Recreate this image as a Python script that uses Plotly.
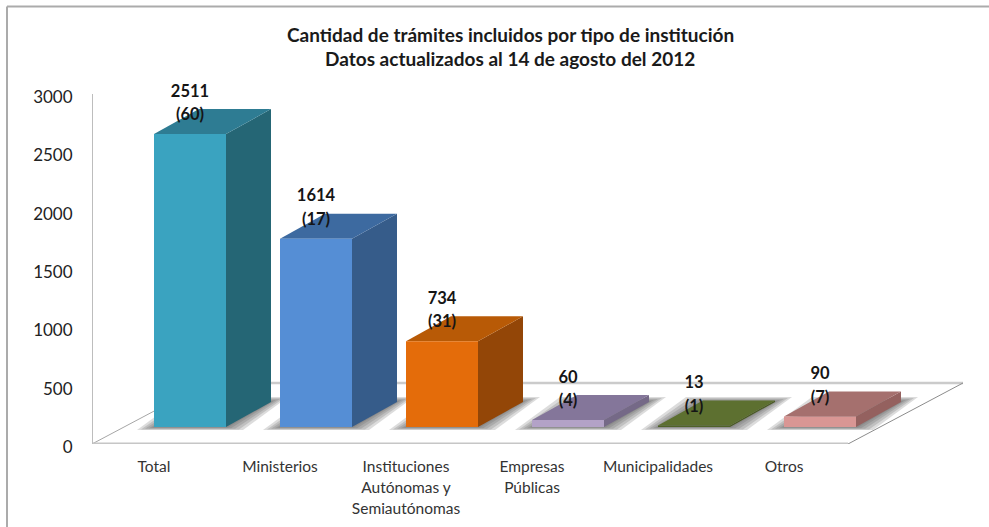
import plotly.graph_objects as go

# ---- data ----
categories = ["Total", "Ministerios", "Instituciones<br>Autónomas y<br>Semiautónomas",
              "Empresas<br>Públicas", "Municipalidades", "Otros"]
tramites = [2511, 1614, 734, 60, 13, 90]
instituciones = [60, 17, 31, 4, 1, 7]
y_ticks = [0, 500, 1000, 1500, 2000, 2500, 3000]
title_lines = ["Cantidad de trámites incluidos por tipo de institución",
               "Datos actualizados al 14 de agosto del 2012"]

# ---- styles ----
front_colors = ["#3AA3C0", "#558ED5", "#E46C0A", "#B3A2C7", "#4F6228", "#D99694"]
top_colors = ["#2E7C93", "#3D6AA0", "#B85A06", "#84769A", "#5D7030", "#A5706E"]
side_colors = ["#256675", "#365C8A", "#934607", "#756987", "#4A5A24", "#94615F"]

W, H = 989, 527
L, R, T, B = 92, 14, 59, 83
Y_MAX = 3300
AXIS_MAX = 3000
PX_X = 126.0                     # pixels per category step
PX_Y = 350 / AXIS_MAX            # pixels per value unit
FIRST_TICK_PX = 154
x0 = (L - FIRST_TICK_PX) / PX_X
x1 = (W - R - FIRST_TICK_PX) / PX_X

px = lambda v: v / PX_X          # pixel length -> x units
py = lambda v: v / PX_Y          # pixel length -> y units

BAR_W = px(72)
BASE = py(17)
BAR_DX, BAR_DY = px(45), py(25)
FLOOR_DX, FLOOR_DY = px(115), py(61)
FLOOR_END = px(848 - 92) + x0

fig = go.Figure()


def poly(xs, ys, color):
    fig.add_trace(go.Scatter(x=xs + xs[:1], y=ys + ys[:1], mode="lines", fill="toself",
                             fillcolor=color, line=dict(width=0), hoverinfo="skip",
                             showlegend=False))


def segment(xs, ys, color, width):
    fig.add_trace(go.Scatter(x=xs, y=ys, mode="lines", line=dict(color=color, width=width),
                             hoverinfo="skip", showlegend=False, cliponaxis=False))


# floor and value axis line
segment([x0 + FLOOR_DX, FLOOR_END + FLOOR_DX], [FLOOR_DY, FLOOR_DY], "#CBCBCB", 2.5)
segment([x0, x0 + FLOOR_DX], [0, FLOOR_DY], "#A6A6A6", 1)
segment([FLOOR_END, FLOOR_END + FLOOR_DX], [0, FLOOR_DY], "#8C8C8C", 1)
segment([x0, FLOOR_END], [0, 0], "#C6C6C6", 3)
segment([x0, x0], [0, AXIS_MAX], "#BDBDBD", 2)

# floor shadows
for i in range(len(tramites)):
    for e, f in [(17, 5), (13, 4), (9, 3), (5, 2), (2, 1)]:
        ex, fy = px(e), py(f)
        poly([i - ex, i + BAR_W + ex, i + BAR_W + BAR_DX + ex, i + BAR_DX - ex],
             [BASE - fy * 0.6, BASE - fy * 0.6, BASE + BAR_DY + fy, BASE + BAR_DY + fy],
             "rgba(90,90,90,0.21)")

# bars: side, top, front
for i, v in enumerate(tramites):
    top = BASE + v
    poly([i + BAR_W, i + BAR_W + BAR_DX, i + BAR_W + BAR_DX, i + BAR_W],
         [BASE, BASE + BAR_DY, top + BAR_DY, top], side_colors[i])
    poly([i, i + BAR_W, i + BAR_W + BAR_DX, i + BAR_DX],
         [top, top, top + BAR_DY, top + BAR_DY], top_colors[i])
    poly([i, i + BAR_W, i + BAR_W, i], [BASE, BASE, top, top], front_colors[i])

# data labels
centres = [i + BAR_W / 2 for i in range(len(tramites))]
label_font = dict(family="Lato, Carlito, sans-serif", size=16.5, color="#151515", weight="bold")
fig.add_trace(go.Scatter(x=centres, y=[BASE + v + py(18) for v in tramites], mode="text",
                         text=[f"({n})" for n in instituciones], textposition="middle center",
                         textfont=label_font, cliponaxis=False, hoverinfo="skip", showlegend=False))
fig.add_trace(go.Scatter(x=centres, y=[BASE + v + py(41.5) for v in tramites], mode="text",
                         text=[str(v) for v in tramites], textposition="middle center",
                         textfont=label_font, cliponaxis=False, hoverinfo="skip", showlegend=False))

fig.update_xaxes(range=[x0, x1], tickmode="array", tickvals=list(range(len(categories))),
                 ticktext=[c.replace("<br>", "</span><br><span style='font-size:15.5px'>")
                           .join(["<span style='font-size:15.5px'>", "</span>"]) for c in categories],
                 tickfont=dict(family="Lato, Carlito, sans-serif", size=16, color="#333333"),
                 ticks="outside", ticklen=8, tickcolor="rgba(0,0,0,0)", tickangle=0,
                 showgrid=False, zeroline=False, showline=False, automargin=False)
fig.update_yaxes(range=[0, Y_MAX], tickmode="array", tickvals=y_ticks,
                 tickfont=dict(family="Lato, Carlito, sans-serif", size=17, color="#222222"),
                 ticks="outside", ticklen=15, tickcolor="rgba(0,0,0,0)", ticklabelshift=3,
                 showgrid=False, zeroline=False, showline=False, automargin=False)

title_font = dict(family="Lato, Carlito, sans-serif", size=19, color="#1A1A1A", weight="bold")
annotations = [dict(text=t, xref="paper", yref="paper",
                    x=(510 - L) / (W - L - R), y=1 - (yy - T) / (H - T - B),
                    showarrow=False, font=title_font, xanchor="center", yanchor="middle")
               for t, yy in zip(title_lines, [34, 58])]

frame_x = (7 - L) / (W - L - R)
frame_top = 1 - (6.5 - T) / (H - T - B)
frame_bottom = 1 - (527 - T) / (H - T - B)
frame_right = (989 - L) / (W - L - R)
shapes = [dict(type="line", xref="paper", yref="paper", x0=frame_x, x1=frame_right,
               y0=frame_top, y1=frame_top, line=dict(color="#ABABAB", width=2)),
          dict(type="line", xref="paper", yref="paper", x0=frame_x, x1=frame_x,
               y0=frame_top, y1=frame_bottom, line=dict(color="#ABABAB", width=2))]

fig.update_layout(width=W, height=H, autosize=False, margin=dict(l=L, r=R, t=T, b=B),
                  paper_bgcolor="white", plot_bgcolor="rgba(0,0,0,0)", showlegend=False,
                  annotations=annotations, shapes=shapes)
fig.write_html("out.html", config=dict(displayModeBar=False),
               post_script="document.body.style.margin='0';document.documentElement.style.overflow='hidden';")
